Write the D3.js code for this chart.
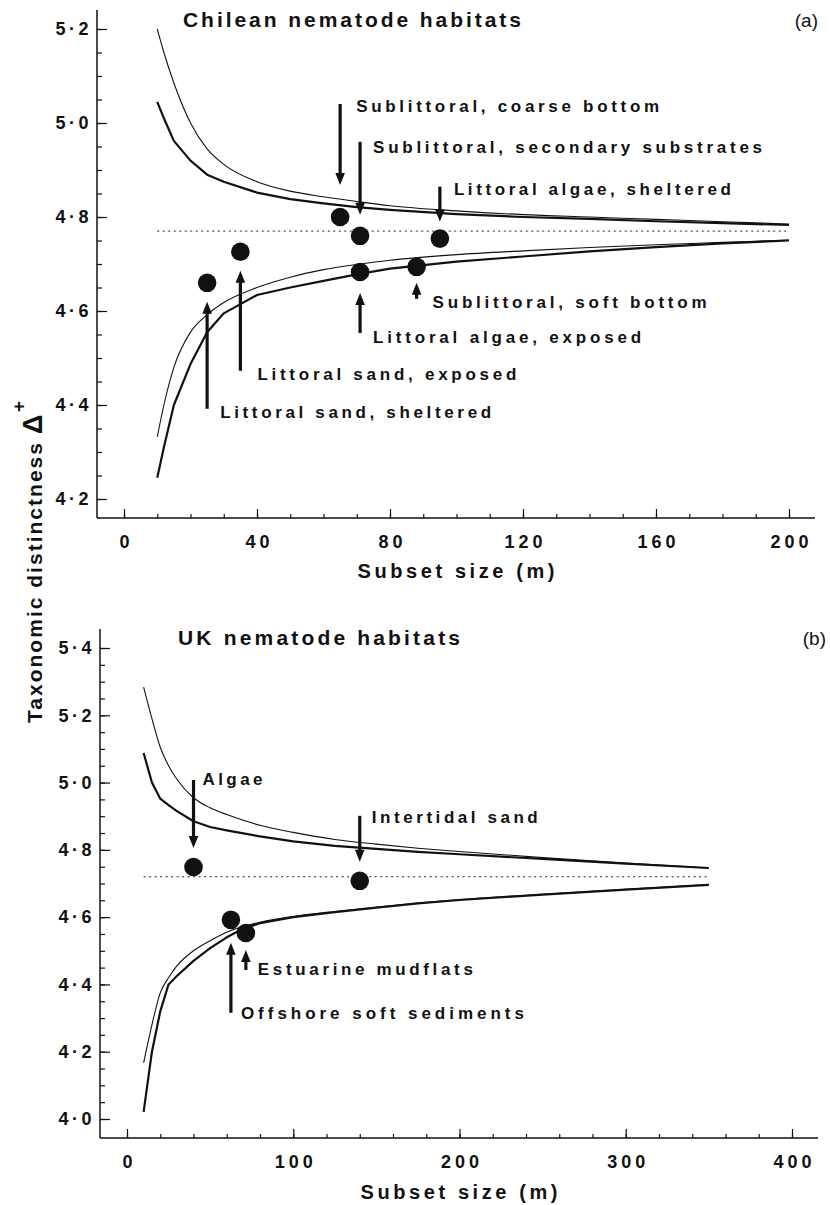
<!DOCTYPE html>
<html lang="en">
<head>
<meta charset="UTF-8">
<title>Taxonomic distinctness funnels</title>
<style>
  body { margin: 0; background: #fff; }
  svg { display: block; }
  text { font-family: "Liberation Sans", Arial, sans-serif; fill: #111; }
</style>
</head>
<body>
<script src="https://cdn.jsdelivr.net/npm/d3@7/dist/d3.min.js"></script>
<script>
// ---------- (a) Chilean nematode habitats ----------
const chileM = [10, 12, 15, 20, 25, 30, 40, 50, 60, 70, 80, 100, 120, 140, 160, 180, 200];
const chileUpperThin  = [5.200, 5.150, 5.085, 5.000, 4.945, 4.912, 4.875, 4.855, 4.843, 4.833, 4.824, 4.813, 4.805, 4.800, 4.795, 4.790, 4.785];
const chileUpperThick = [5.045, 5.010, 4.962, 4.920, 4.890, 4.875, 4.852, 4.838, 4.829, 4.821, 4.815, 4.806, 4.800, 4.796, 4.791, 4.787, 4.783];
const chileLowerThin  = [4.332, 4.400, 4.480, 4.555, 4.592, 4.618, 4.650, 4.672, 4.688, 4.699, 4.708, 4.720, 4.728, 4.735, 4.741, 4.746, 4.751];
const chileLowerThick = [4.245, 4.310, 4.400, 4.487, 4.555, 4.595, 4.634, 4.650, 4.664, 4.678, 4.690, 4.705, 4.716, 4.727, 4.736, 4.744, 4.750];
const chileMean = 4.77;
const chileHabitats = ["Littoral sand, sheltered", "Littoral sand, exposed", "Sublittoral, coarse bottom",
  "Sublittoral, secondary substrates", "Littoral algae, exposed", "Sublittoral, soft bottom", "Littoral algae, sheltered"];
const chileHabitatM = [25, 35, 65, 71, 71, 88, 95];
const chileHabitatDelta = [4.660, 4.726, 4.800, 4.760, 4.683, 4.694, 4.754];
const chileXTicks = [0, 40, 80, 120, 160, 200];
const chileYTicks = [4.2, 4.4, 4.6, 4.8, 5.0, 5.2];

// ---------- (b) UK nematode habitats ----------
const ukM = [10, 15, 20, 25, 30, 40, 50, 60, 70, 80, 100, 125, 150, 175, 200, 250, 300, 350];
const ukUpperThin  = [5.284, 5.190, 5.105, 5.050, 5.010, 4.955, 4.925, 4.905, 4.888, 4.873, 4.852, 4.831, 4.817, 4.805, 4.795, 4.777, 4.761, 4.746];
const ukUpperThick = [5.088, 5.000, 4.952, 4.933, 4.915, 4.885, 4.868, 4.858, 4.849, 4.840, 4.825, 4.812, 4.803, 4.794, 4.787, 4.773, 4.759, 4.746];
const ukLowerThin  = [4.167, 4.280, 4.375, 4.420, 4.455, 4.500, 4.530, 4.555, 4.572, 4.585, 4.602, 4.617, 4.630, 4.642, 4.652, 4.668, 4.683, 4.697];
const ukLowerThick = [4.021, 4.200, 4.320, 4.400, 4.425, 4.470, 4.508, 4.540, 4.566, 4.582, 4.600, 4.615, 4.628, 4.641, 4.651, 4.667, 4.682, 4.696];
const ukMean = 4.72;
const ukHabitats = ["Algae", "Intertidal sand", "Offshore soft sediments", "Estuarine mudflats"];
const ukHabitatM = [40, 140, 62.5, 71.5];
const ukHabitatDelta = [4.749, 4.708, 4.592, 4.553];
const ukXTicks = [0, 100, 200, 300, 400];
const ukYTicks = [4.0, 4.2, 4.4, 4.6, 4.8, 5.0, 5.2, 5.4];

// label / arrow placement relative to each point (pixels): arrow tail, arrow tip, label dx, label dy, label width
const chileNotes = [
  [126, 19, 13, 129, 271], [119, 19, 17, 122, 259], [-113, -32, 16, -111, 303],
  [-94, -21, 13, -89, 389], [61, 21, 13, 65, 268], [32, 16, 16, 35, 274], [-52, -17, 14, -50, 277]
];
const ukNotes = [
  [-87, -19, 9, -88, 60], [-65, -19, 12, -64, 166], [93, 23, 10, 93, 283], [37, 17, 12, 36, 215]
];

const svg = d3.select("body").append("svg")
  .attr("width", 830)
  .attr("height", 1205);

const fmt = d => d3.format(".1f")(d).replace(".", "\u00b7");

function drawPanel(p) {
  const x = d3.scaleLinear().domain([p.xTicks[0], p.xTicks[p.xTicks.length - 1]]).range(p.xPix);
  const y = d3.scaleLinear().domain([p.yTicks[0], p.yTicks[p.yTicks.length - 1]]).range(p.yPix);
  const g = svg.append("g");

  // frame lines
  g.append("line").attr("x1", p.left).attr("x2", p.left).attr("y1", p.top).attr("y2", p.bottom)
    .attr("stroke", "#111").attr("stroke-width", 1.5);
  g.append("line").attr("x1", p.left).attr("x2", p.right).attr("y1", p.bottom).attr("y2", p.bottom)
    .attr("stroke", "#111").attr("stroke-width", 1.5);

  // y axis
  const yMinor = d3.range(Math.round(p.yTicks[0] * 20), Math.round(p.yTicks[p.yTicks.length - 1] * 20) + 1).map(d => d / 20);
  g.append("g").attr("transform", `translate(${p.left},0)`)
    .call(d3.axisLeft(y).tickValues(yMinor).tickSize(-5).tickFormat(""))
    .call(a => a.select(".domain").remove())
    .call(a => a.selectAll("line").attr("stroke", "#111").attr("stroke-width", 1.2));
  g.append("g").attr("transform", `translate(${p.left},0)`)
    .call(d3.axisLeft(y).tickValues(p.yTicks).tickSize(-10).tickPadding(5).tickFormat(fmt))
    .call(a => a.select(".domain").remove())
    .call(a => a.selectAll("line").attr("stroke", "#111").attr("stroke-width", 1.2))
    .call(a => a.selectAll("text")
      .attr("font-size", 18).attr("font-weight", "bold").attr("letter-spacing", 3.5)
      .attr("font-family", "Liberation Sans, Arial, sans-serif").attr("fill", "#111"));

  // x axis
  const step = p.xMinor;
  const xMinor = d3.range(p.xTicks[0], p.xTicks[p.xTicks.length - 1] + 1, step);
  g.append("g").attr("transform", `translate(0,${p.bottom})`)
    .call(d3.axisBottom(x).tickValues(xMinor).tickSize(-4).tickFormat(""))
    .call(a => a.select(".domain").remove())
    .call(a => a.selectAll("line").attr("stroke", "#111").attr("stroke-width", 1.2));
  g.append("g").attr("transform", `translate(0,${p.bottom})`)
    .call(d3.axisBottom(x).tickValues(p.xTicks).tickSize(-9).tickPadding(17).tickFormat(d3.format("d")))
    .call(a => a.select(".domain").remove())
    .call(a => a.selectAll("line").attr("stroke", "#111").attr("stroke-width", 1.2))
    .call(a => a.selectAll("text")
      .attr("font-size", 18).attr("font-weight", "bold").attr("letter-spacing", 4).attr("dx", 2)
      .attr("font-family", "Liberation Sans, Arial, sans-serif").attr("fill", "#111"));

  g.append("text")
    .attr("x", p.xTitle[0]).attr("y", p.xTitle[1]).attr("dy", "0.35em")
    .attr("text-anchor", "middle").attr("font-size", 20).attr("font-weight", "bold")
    .attr("textLength", 197).attr("lengthAdjust", "spacing")
    .text("Subset size (m)");

  // titles
  g.append("text")
    .attr("x", p.title[0]).attr("y", p.title[1]).attr("dy", "0.35em")
    .attr("font-size", 21).attr("font-weight", "bold")
    .attr("textLength", p.title[2]).attr("lengthAdjust", "spacing")
    .text(p.titleText);
  g.append("text")
    .attr("x", p.tag[0]).attr("y", p.tag[1]).attr("dy", "0.35em")
    .attr("text-anchor", "end").attr("font-size", 19)
    .text(p.tagText);

  // mean line
  g.append("line")
    .attr("x1", x(p.m[0])).attr("x2", x(p.m[p.m.length - 1]))
    .attr("y1", y(p.mean)).attr("y2", y(p.mean))
    .attr("stroke", "#222").attr("stroke-width", 1).attr("stroke-dasharray", "2,3.5");

  // funnel limits
  const lineThin = d3.line().x((d, i) => x(p.m[i])).y(d => y(d)).curve(d3.curveMonotoneX);
  const lineThick = d3.line().x((d, i) => x(p.m[i])).y(d => y(d));
  [p.upperThin, p.lowerThin].forEach(s => g.append("path").attr("d", lineThin(s))
    .attr("fill", "none").attr("stroke", "#111").attr("stroke-width", 1.1));
  [p.upperThick, p.lowerThick].forEach(s => g.append("path").attr("d", lineThick(s))
    .attr("fill", "none").attr("stroke", "#111").attr("stroke-width", 2.2).attr("stroke-linejoin", "round"));

  // habitats
  p.names.forEach((name, i) => {
    const cx = x(p.hm[i]);
    const cy = y(p.hd[i]);
    const [tail, tip, ldx, ldy, lw] = p.notes[i];
    const dir = Math.sign(tip);
    const headLen = 12;
    g.append("line")
      .attr("x1", cx).attr("x2", cx)
      .attr("y1", cy + tail).attr("y2", cy + tip + dir * (headLen - 2))
      .attr("stroke", "#111").attr("stroke-width", 3.2);
    g.append("path")
      .attr("d", `M${cx},${cy + tip}L${cx - 4.8},${cy + tip + dir * headLen}L${cx + 4.8},${cy + tip + dir * headLen}Z`)
      .attr("fill", "#111");
    g.append("text")
      .attr("x", cx + ldx).attr("y", cy + ldy).attr("dy", "0.35em")
      .attr("font-size", 17).attr("font-weight", "bold")
      .attr("textLength", lw).attr("lengthAdjust", "spacing")
      .text(name);
    g.append("circle").attr("cx", cx).attr("cy", cy).attr("r", 9.3).attr("fill", "#111");
  });
}

drawPanel({
  m: chileM, upperThin: chileUpperThin, upperThick: chileUpperThick,
  lowerThin: chileLowerThin, lowerThick: chileLowerThick, mean: chileMean,
  names: chileHabitats, hm: chileHabitatM, hd: chileHabitatDelta, notes: chileNotes,
  xTicks: chileXTicks, yTicks: chileYTicks, xMinor: 10,
  xPix: [124, 789], yPix: [499, 29],
  left: 97, right: 815, top: 10, bottom: 518,
  xTitle: [456, 571], title: [183, 20, 338], titleText: "Chilean nematode habitats",
  tag: [818, 20], tagText: "(a)"
});

drawPanel({
  m: ukM, upperThin: ukUpperThin, upperThick: ukUpperThick,
  lowerThin: ukLowerThin, lowerThick: ukLowerThick, mean: ukMean,
  names: ukHabitats, hm: ukHabitatM, hd: ukHabitatDelta, notes: ukNotes,
  xTicks: ukXTicks, yTicks: ukYTicks, xMinor: 20,
  xPix: [127, 792], yPix: [1119, 648],
  left: 100, right: 818, top: 629, bottom: 1138,
  xTitle: [459, 1192], title: [178, 638, 282], titleText: "UK nematode habitats",
  tag: [826, 638], tagText: "(b)"
});

// shared y label
svg.append("text")
  .attr("transform", "translate(42,723) rotate(-90)")
  .attr("font-size", 21).attr("font-weight", "bold")
  .attr("textLength", 280).attr("lengthAdjust", "spacing")
  .text("Taxonomic distinctness");
svg.append("text")
  .attr("transform", "translate(42,434) rotate(-90)")
  .attr("font-size", 27).attr("font-weight", "bold")
  .text("\u0394");
svg.append("text")
  .attr("transform", "translate(25,412) rotate(-90)")
  .attr("font-size", 19).attr("font-weight", "bold")
  .text("+");
</script>
</body>
</html>
